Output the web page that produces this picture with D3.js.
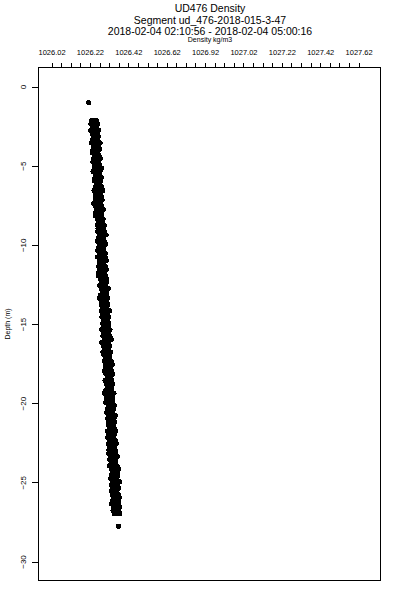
<!DOCTYPE html>
<html>
<head>
<meta charset="utf-8">
<script src="https://cdn.jsdelivr.net/npm/d3@7"></script>
<style>
  body { margin: 0; background: #fff; }
  text { font-family: "Liberation Sans", Arial, Helvetica, sans-serif; fill: #000; }
</style>
</head>
<body>
<div id="chart"></div>
<script>
// depth levels (m) of the profile
const depth = [
  -2.2,-2.4,-2.6,-2.8,-3.0,-3.2,-3.4,-3.6,-3.8,-4.0,-4.2,-4.4,-4.6,-4.8,-5.0,
  -5.2,-5.4,-5.6,-5.8,-6.0,-6.2,-6.4,-6.6,-6.8,-7.0,-7.2,-7.4,-7.6,-7.8,-8.0,
  -8.2,-8.4,-8.6,-8.8,-9.0,-9.2,-9.4,-9.6,-9.8,-10.0,-10.2,-10.4,-10.6,-10.8,-11.0,
  -11.2,-11.4,-11.6,-11.8,-12.0,-12.2,-12.4,-12.6,-12.8,-13.0,-13.2,-13.4,-13.6,-13.8,-14.0,
  -14.2,-14.4,-14.6,-14.8,-15.0,-15.2,-15.4,-15.6,-15.8,-16.0,-16.2,-16.4,-16.6,-16.8,-17.0,
  -17.2,-17.4,-17.6,-17.8,-18.0,-18.2,-18.4,-18.6,-18.8,-19.0,-19.2,-19.4,-19.6,-19.8,-20.0,
  -20.2,-20.4,-20.6,-20.8,-21.0,-21.2,-21.4,-21.6,-21.8,-22.0,-22.2,-22.4,-22.6,-22.8,-23.0,
  -23.2,-23.4,-23.6,-23.8,-24.0,-24.2,-24.4,-24.6,-24.8,-25.0,-25.2,-25.4,-25.6,-25.8,-26.0,
  -26.2,-26.4,-26.6,-26.8,-27.0
];
// density samples (kg/m3) at each level, three passes
const densA = [
  1026.232,1026.227,1026.237,1026.226,1026.234, 1026.240,1026.235,1026.229,1026.242,1026.239,
  1026.234,1026.246,1026.242,1026.238,1026.245, 1026.245,1026.239,1026.252,1026.249,1026.246,
  1026.256,1026.251,1026.244,1026.253,1026.250, 1026.254,1026.242,1026.253,1026.259,1026.251,
  1026.252,1026.261,1026.265,1026.260,1026.265, 1026.263,1026.273,1026.266,1026.262,1026.272,
  1026.268,1026.263,1026.273,1026.261,1026.271, 1026.275,1026.269,1026.273,1026.268,1026.266,
  1026.276,1026.281,1026.274,1026.281,1026.287, 1026.277,1026.273,1026.284,1026.282,1026.288,
  1026.282,1026.289,1026.285,1026.295,1026.289, 1026.292,1026.284,1026.293,1026.290,1026.297,
  1026.284,1026.293,1026.298,1026.290,1026.296, 1026.306,1026.298,1026.305,1026.302,1026.298,
  1026.306,1026.312,1026.301,1026.307,1026.312, 1026.305,1026.299,1026.311,1026.310,1026.306,
  1026.319,1026.314,1026.310,1026.319,1026.315, 1026.321,1026.318,1026.324,1026.312,1026.321,
  1026.315,1026.323,1026.319,1026.327,1026.322, 1026.321,1026.330,1026.326,1026.334,1026.323,
  1026.335,1026.341,1026.333,1026.331,1026.340, 1026.334,1026.340,1026.333,1026.339,1026.346,
  1026.338,1026.335,1026.344,1026.343,1026.349
];
const densB = [
  1026.257,1026.264,1026.256,1026.269,1026.263, 1026.267,1026.262,1026.276,1026.267,1026.274,
  1026.262,1026.270,1026.276,1026.267,1026.274, 1026.283,1026.275,1026.272,1026.282,1026.279,
  1026.275,1026.284,1026.289,1026.278,1026.283, 1026.286,1026.277,1026.283,1026.291,1026.283,
  1026.283,1026.292,1026.288,1026.298,1026.293, 1026.299,1026.307,1026.293,1026.297,1026.304,
  1026.295,1026.292,1026.303,1026.301,1026.308, 1026.295,1026.303,1026.307,1026.299,1026.303,
  1026.311,1026.307,1026.302,1026.318,1026.307, 1026.311,1026.316,1026.310,1026.316,1026.309,
  1026.325,1026.316,1026.321,1026.314,1026.321, 1026.319,1026.327,1026.318,1026.327,1026.333,
  1026.321,1026.325,1026.319,1026.330,1026.326, 1026.325,1026.335,1026.340,1026.331,1026.337,
  1026.341,1026.332,1026.337,1026.342,1026.337, 1026.333,1026.348,1026.338,1026.342,1026.338,
  1026.350,1026.347,1026.341,1026.355,1026.348, 1026.351,1026.345,1026.349,1026.356,1026.349,
  1026.347,1026.355,1026.360,1026.348,1026.355, 1026.358,1026.364,1026.358,1026.355,1026.365,
  1026.372,1026.365,1026.368,1026.363,1026.378, 1026.364,1026.371,1026.363,1026.370,1026.376,
  1026.372,1026.370,1026.378,1026.373,1026.378
];
const densC = [
  1026.245,1026.249,1026.243,1026.253,1026.247, 1026.253,1026.247,1026.257,1026.253,1026.261,
  1026.251,1026.256,1026.261,1026.250,1026.259, 1026.265,1026.260,1026.263,1026.267,1026.261,
  1026.263,1026.270,1026.262,1026.268,1026.273, 1026.261,1026.268,1026.272,1026.267,1026.270,
  1026.277,1026.269,1026.278,1026.282,1026.277, 1026.282,1026.286,1026.279,1026.283,1026.279,
  1026.288,1026.281,1026.287,1026.286,1026.282, 1026.282,1026.291,1026.286,1026.286,1026.290,
  1026.296,1026.288,1026.295,1026.301,1026.294, 1026.295,1026.299,1026.293,1026.300,1026.304,
  1026.302,1026.298,1026.308,1026.305,1026.309, 1026.307,1026.303,1026.312,1026.307,1026.310,
  1026.304,1026.315,1026.309,1026.313,1026.309, 1026.321,1026.316,1026.313,1026.321,1026.324,
  1026.320,1026.324,1026.319,1026.329,1026.323, 1026.321,1026.325,1026.328,1026.321,1026.328,
  1026.333,1026.326,1026.332,1026.338,1026.335, 1026.332,1026.338,1026.336,1026.332,1026.342,
  1026.335,1026.334,1026.342,1026.339,1026.335, 1026.346,1026.346,1026.339,1026.350,1026.347,
  1026.347,1026.356,1026.352,1026.351,1026.356, 1026.353,1026.348,1026.353,1026.358,1026.354,
  1026.355,1026.361,1026.353,1026.360,1026.364
];
// the two lone samples above and below the main profile
const loneDepth = [-1.05, -27.8];
const loneDens = [1026.216, 1026.371];

const xLabelValues = [1026.02, 1026.22, 1026.42, 1026.62, 1026.82, 1027.02, 1027.22, 1027.42, 1027.62];
const xLabels = ["1026.02", "1026.22", "1026.42", "1026.62", "1026.92", "1027.02", "1027.22", "1027.42", "1027.62"];
const yTicks = [0, -5, -10, -15, -20, -25, -30];

const titleLines = ["UD476 Density", "Segment ud_476-2018-015-3-47", "2018-02-04 02:10:56 - 2018-02-04 05:00:16"];

const width = 400, height = 600;
const margin = {top: 67, right: 20, bottom: 20, left: 38};

const svg = d3.select("#chart").append("svg")
  .attr("width", width)
  .attr("height", height);

const x = d3.scaleLinear().domain([1025.952, 1027.734]).range([margin.left, width - margin.right]);
const y = d3.scaleLinear().domain([1.2, -31.2]).range([margin.top, height - margin.bottom]);

// points
const pts = [];
depth.forEach((d, i) => {
  pts.push([densA[i], d]);
  pts.push([densB[i], d]);
  pts.push([densC[i], d]);
});
loneDepth.forEach((d, i) => pts.push([loneDens[i], d]));

svg.append("g").selectAll("circle").data(pts).enter().append("circle")
  .attr("cx", d => x(d[0]))
  .attr("cy", d => y(d[1]))
  .attr("r", 2.6)
  .attr("fill", "#000")
  .attr("shape-rendering", "crispEdges");

// box
svg.append("rect")
  .attr("x", margin.left + 0.5).attr("y", margin.top + 0.5)
  .attr("width", width - margin.right - margin.left)
  .attr("height", height - margin.bottom - margin.top)
  .attr("fill", "none").attr("stroke", "#000").attr("stroke-width", 1)
  .attr("shape-rendering", "crispEdges");

// top axis: minor ticks every 0.05 and labelled ticks
const minor = d3.range(33).map(i => 1026.02 + i * 0.05);
const topMinor = svg.append("g")
  .attr("transform", `translate(0.5,${margin.top + 0.5})`)
  .call(d3.axisTop(x).tickValues(minor).tickSize(5).tickFormat(""));
const topMajor = svg.append("g")
  .attr("transform", `translate(0.5,${margin.top + 0.5})`)
  .call(d3.axisTop(x).tickValues(xLabelValues).tickSize(5).tickPadding(8)
    .tickFormat((d, i) => xLabels[i]));
[topMinor, topMajor].forEach(g => {
  g.select(".domain").remove();
  g.selectAll("line").attr("stroke", "#000").attr("shape-rendering", "crispEdges");
});
topMajor.selectAll("text").style("font-size", "7.5px");

// left axis, labels rotated
const left = svg.append("g")
  .attr("transform", `translate(${margin.left + 0.5},0.5)`)
  .call(d3.axisLeft(y).tickValues(yTicks).tickSize(7).tickFormat(d3.format("d")));
left.select(".domain").remove();
left.selectAll("line").attr("stroke", "#000").attr("shape-rendering", "crispEdges");
left.selectAll("text")
  .attr("transform", "rotate(-90)")
  .attr("x", 0).attr("y", -12.5).attr("dy", 0)
  .attr("text-anchor", "middle")
  .style("font-size", "8px");

// titles
svg.append("g").selectAll("text").data(titleLines).enter().append("text")
  .attr("x", 210)
  .attr("y", (d, i) => 12 + i * 11.5)
  .attr("text-anchor", "middle")
  .style("font-size", "10.5px")
  .text(d => d);

svg.append("text")
  .attr("x", 210).attr("y", 42)
  .attr("text-anchor", "middle")
  .style("font-size", "7px")
  .text("Density kg/m3");

svg.append("text")
  .attr("transform", "translate(9.5,324) rotate(-90)")
  .attr("text-anchor", "middle")
  .style("font-size", "7px")
  .text("Depth (m)");
</script>
</body>
</html>
